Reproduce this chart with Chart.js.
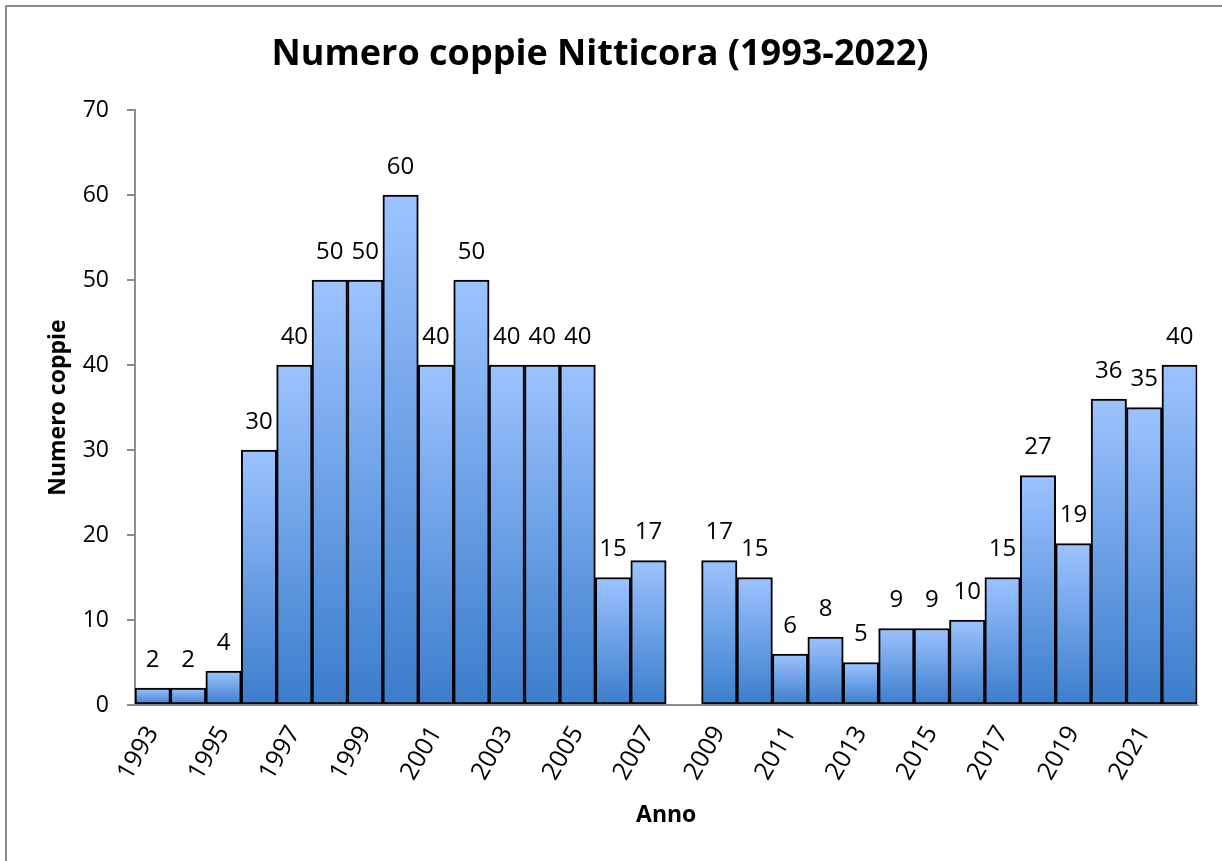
<!DOCTYPE html>
<html>
<head>
<meta charset="utf-8">
<script src="https://cdn.jsdelivr.net/npm/chart.js@4"></script>
<style>
    body { margin: 0; background: #fff; }
    #frame { position: absolute; left: 5px; top: 5px; width: 1300px; height: 900px; border: 2px solid #8c8c8c; }
    #wrap { position: absolute; left: 0; top: 0; width: 1222px; height: 861px; }
</style>
</head>
<body>
<div id="frame"></div>
<div id="wrap"><canvas id="chart"></canvas></div>
<script>
// Data
const years = ['1993', '1994', '1995', '1996', '1997', '1998', '1999', '2000', '2001', '2002',
    '2003', '2004', '2005', '2006', '2007', '2008', '2009', '2010', '2011', '2012',
    '2013', '2014', '2015', '2016', '2017', '2018', '2019', '2020', '2021', '2022'];
const coppie = [2, 2, 4, 30, 40, 50, 50, 60, 40, 50,
    40, 40, 40, 15, 17, null, 17, 15, 6, 8,
    5, 9, 9, 10, 15, 27, 19, 36, 35, 40];
const yTicks = [0, 10, 20, 30, 40, 50, 60, 70];

const FONT = '"Open Sans", sans-serif';

// gradient per bar, light on top, dark at the base
function barFill(ctx) {
    const chart = ctx.chart;
    const v = ctx.raw;
    if (!chart.chartArea || v == null) return '#6a9ee6';
    const y = chart.scales.y;
    const top = y.getPixelForValue(v);
    const bottom = y.getPixelForValue(0);
    const g = chart.ctx.createLinearGradient(0, top, 0, bottom);
    g.addColorStop(0, '#9cc3ff');
    g.addColorStop(1, '#3b7dcc');
    return g;
}

// value labels above bars
const valueLabels = {
    id: 'valueLabels',
    afterDatasetsDraw(chart) {
        const ctx = chart.ctx;
        const meta = chart.getDatasetMeta(0);
        ctx.save();
        ctx.font = '24px ' + FONT;
        ctx.fillStyle = '#000';
        ctx.textAlign = 'center';
        ctx.textBaseline = 'middle';
        meta.data.forEach((el, i) => {
            const v = coppie[i];
            if (v == null) return;
            ctx.fillText(String(v), el.x, el.y - 28);
        });
        ctx.restore();
    }
};

new Chart(document.getElementById('chart'), {
    type: 'bar',
    data: {
        labels: years,
        datasets: [{
            data: coppie,
            backgroundColor: barFill,
            borderColor: '#000',
            borderWidth: 2,
            borderSkipped: false,
            barPercentage: 1,
            categoryPercentage: 1
        }]
    },
    options: {
        responsive: true,
        maintainAspectRatio: false,
        animation: false,
        layout: { padding: { left: 0, right: 22, top: 0, bottom: 0 } },
        plugins: {
            legend: { display: false },
            tooltip: { enabled: false },
            title: {
                display: true,
                text: 'Numero coppie Nitticora (1993-2022)',
                color: '#000',
                font: { family: FONT, size: 36, weight: 'bold' },
                padding: { top: 33, bottom: 34 }
            }
        },
        scales: {
            x: {
                grid: { display: false, drawTicks: false },
                border: { display: true, color: '#8c8c8c', width: 2 },
                ticks: {
                    autoSkip: false,
                    minRotation: 60,
                    maxRotation: 60,
                    padding: 16,
                    color: '#000',
                    font: { family: FONT, size: 25 },
                    callback: function (val, idx) { return idx % 2 === 0 ? years[idx] : ''; }
                },
                title: {
                    display: true,
                    text: 'Anno',
                    color: '#000',
                    font: { family: FONT, size: 23, weight: 'bold' },
                    padding: { top: 16, bottom: 32 }
                },
                afterFit: function (scale) { scale.height = 156; }
            },
            y: {
                min: 0,
                max: 70,
                afterBuildTicks: function (scale) { scale.ticks = yTicks.map(v => ({ value: v })); },
                grid: { drawOnChartArea: false, drawTicks: true, tickLength: 8, color: '#8c8c8c', lineWidth: 2 },
                border: { display: true, color: '#8c8c8c', width: 2 },
                ticks: {
                    padding: 18,
                    color: '#000',
                    font: { family: FONT, size: 23 }
                },
                title: {
                    display: true,
                    text: 'Numero coppie',
                    color: '#000',
                    font: { family: FONT, size: 23, weight: 'bold' },
                    padding: { top: 45, bottom: 0 }
                },
                afterFit: function (scale) { scale.width = 135; }
            }
        }
    },
    plugins: [valueLabels]
});
</script>
</body>
</html>
